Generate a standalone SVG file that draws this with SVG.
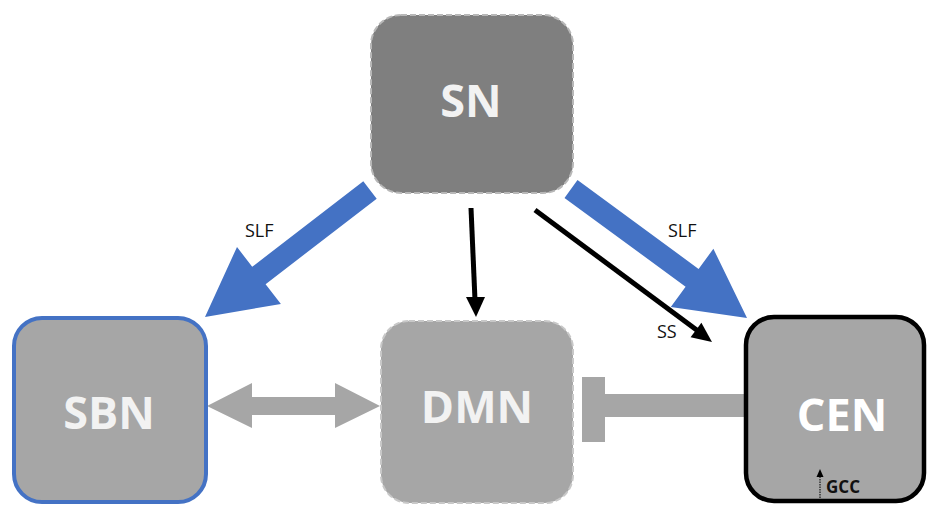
<svg xmlns="http://www.w3.org/2000/svg" width="930" height="506" viewBox="0 0 930 506">
<style>
.big{font-family:"Open Sans","Liberation Sans",sans-serif;font-weight:bold;font-size:45px;fill:#f2f2f2;text-anchor:middle}
.lbl{font-family:"Open Sans","Liberation Sans",sans-serif;font-size:18px;fill:#111111}
.blue{fill:#4472c4}
.grey{fill:#a6a6a6}
</style>
<rect width="930" height="506" fill="#ffffff"/>
<g id="connectors">
  <polygon class="blue" points="564.5,197.9 577.5,180.1 698.6,268.9 713.4,248.8 747,318 670.8,306.9 685.6,286.7"/>
  <polygon class="blue" points="376.7,198.7 363.3,181.3 252.2,266.8 237,247 205,317 280.9,304 265.6,284.2"/>
  <line x1="535" y1="210" x2="698" y2="331" stroke="#000" stroke-width="5"/>
  <polygon points="712,342 690.6,337.2 701.4,322.8" fill="#000"/>
  <line x1="471" y1="208" x2="475" y2="300" stroke="#000" stroke-width="5"/>
  <polygon points="476,317 466,297 485,297" fill="#000"/>
  <polygon class="grey" points="207,406 252,383 252,397 335,397 335,383 380,406 335,428 335,415 252,415 252,428"/>
  <rect class="grey" x="582" y="377" width="23" height="65"/>
  <rect class="grey" x="604" y="394" width="142" height="23"/>
  <text class="lbl" x="245" y="237">SLF</text>
  <text class="lbl" x="668" y="237">SLF</text>
  <text class="lbl" x="657" y="338">SS</text>
</g>
<g id="SN">
  <rect x="371" y="15" width="202" height="178" rx="30" fill="#7f7f7f" stroke="#b8b8b8" stroke-width="2" stroke-dasharray="6,3"/>
  <text class="big" x="471" y="117">SN</text>
</g>
<g id="SBN">
  <rect x="14" y="318" width="192" height="184" rx="28" fill="#a6a6a6" stroke="#4472c4" stroke-width="4"/>
  <text class="big" x="109" y="429">SBN</text>
</g>
<g id="DMN">
  <rect x="381" y="321" width="192" height="182" rx="28" fill="#a6a6a6" stroke="#c8c8c8" stroke-width="2" stroke-dasharray="6,3"/>
  <text class="big" x="477" y="423">DMN</text>
</g>
<g id="CEN">
  <rect x="746" y="317" width="178" height="184" rx="28" fill="#a6a6a6" stroke="#000" stroke-width="4.5"/>
  <text class="big" x="842" y="431" style="fill:#ffffff">CEN</text>
  <line x1="820" y1="498" x2="820" y2="475" stroke="#333" stroke-width="1.5" stroke-dasharray="1.5,1"/>
  <polygon points="820,469 816.5,477 823.5,477" fill="#000"/>
  <text x="826" y="493" font-family="Open Sans, Liberation Sans, sans-serif" font-weight="bold" font-size="17" fill="#111111">GCC</text>
</g>
</svg>
